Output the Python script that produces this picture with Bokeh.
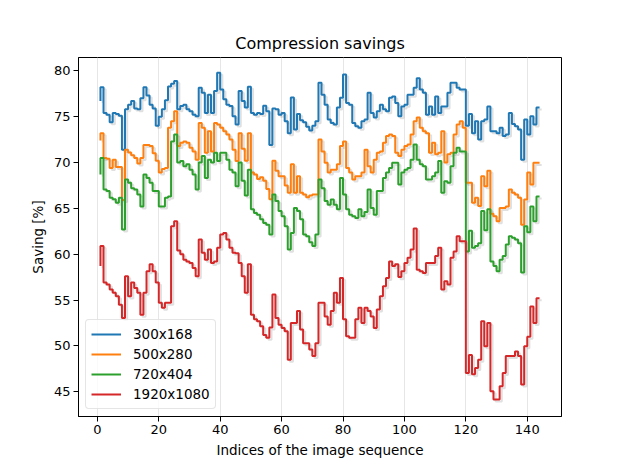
from bokeh.plotting import figure
from bokeh.models import Range1d, FixedTicker, Legend, LegendItem, ColumnDataSource
from bokeh.embed import file_html
from bokeh.resources import INLINE

# ---------------- data ----------------
indices = list(range(1, 145))

s300x168 = [76.7,
    78.2, 75.4, 75.2, 74.4, 75.4, 75.3, 75.1, 71.4, 75.8, 76.3,
    76.7, 75.9, 75.8, 77.0, 78.2, 77.3, 76.3, 75.9, 74.0, 75.0,
    75.8, 76.8, 78.3, 78.6, 78.9, 75.8, 76.15, 76.3, 75.8, 75.6,
    75.2, 75.05, 78.15, 77.6, 75.4, 77.4, 75.4, 77.8, 79.8, 77.96,
    76.9, 76.3, 76.15, 75.05, 74.15, 77.8, 76.7, 76.0, 78.25, 75.4,
    75.2, 75.4, 75.3, 76.2, 75.6, 71.9, 75.9, 75.8, 75.2, 75.4,
    74.5, 73.2, 77.1, 73.6, 75.3, 74.6, 74.4, 73.9, 73.5, 74.0,
    74.5, 78.7, 77.4, 76.3, 74.7, 74.3, 74.15, 76.0, 77.05, 79.6,
    76.5, 76.3, 74.3, 73.96, 73.8, 74.5, 74.7, 77.6, 75.4, 74.9,
    75.6, 76.3, 75.8, 75.6, 77.05, 77.2, 76.5, 75.05, 76.1, 76.3,
    77.4, 77.4, 78.15, 79.2, 77.96, 77.6, 75.2, 76.1, 75.2, 77.2,
    75.4, 76.1, 76.1, 77.6, 78.7, 78.7, 78.15, 77.96, 77.96, 74.0,
    75.3, 73.2, 74.5, 72.5, 74.5, 74.7, 76.1, 73.4, 73.4, 73.2,
    73.8, 72.9, 73.05, 75.4, 74.2, 73.96, 73.6, 70.3, 74.7, 73.05,
    75.05, 74.15, 76.0]

s500x280 = [72.4,
    73.2, 70.5, 70.4, 69.4, 70.3, 69.5, 69.5, 65.9, 71.4, 71.1,
    70.8, 70.5, 69.9, 70.5, 71.9, 71.9, 71.8, 71.0, 70.2, 68.9,
    69.3, 69.4, 73.8, 74.5, 75.6, 71.8, 72.15, 72.3, 72.15, 71.6,
    71.2, 70.3, 74.3, 73.8, 71.05, 73.4, 71.2, 74.3, 74.15, 73.8,
    73.4, 73.05, 72.5, 71.4, 70.15, 73.2, 71.5, 70.2, 73.2, 68.9,
    68.7, 68.2, 68.4, 68.0, 67.1, 66.0, 70.2, 69.1, 68.5, 68.5,
    67.5, 66.7, 69.8, 66.7, 68.5, 66.7, 66.5, 66.2, 66.4, 66.5,
    66.5, 72.5, 71.2, 69.96, 68.9, 69.2, 69.2, 69.8, 71.8, 72.3,
    69.4, 68.9, 68.15, 68.5, 68.5, 68.9, 71.4, 69.6, 68.9, 70.3,
    71.05, 71.2, 72.15, 72.9, 73.05, 72.9, 71.05, 70.7, 71.4, 71.8,
    71.96, 73.05, 74.5, 74.9, 73.8, 73.4, 73.2, 71.05, 72.15, 70.9,
    71.05, 73.4, 70.0, 70.9, 71.05, 73.05, 74.15, 74.5, 73.8, 67.8,
    67.8, 65.6, 66.15, 65.25, 68.5, 67.4, 69.1, 64.4, 64.15, 63.6,
    65.05, 65.05, 65.2, 67.05, 66.7, 66.5, 66.15, 63.2, 65.96, 68.9,
    67.6, 69.96, 69.96]

s720x404 = [68.7,
    70.5, 67.05, 66.9, 66.15, 66.0, 65.6, 66.15, 62.7, 68.15, 67.8,
    67.2, 67.05, 66.5, 65.2, 68.7, 68.3, 67.8, 66.9, 66.9, 65.2,
    65.2, 66.15, 66.3, 72.3, 73.05, 70.0, 70.15, 69.6, 69.8, 69.2,
    68.7, 67.05, 70.0, 70.7, 68.3, 70.3, 70.0, 71.05, 70.15, 71.05,
    71.05, 70.3, 69.2, 68.9, 67.4, 70.0, 68.0, 66.4, 69.2, 64.9,
    64.5, 64.3, 63.8, 63.4, 63.2, 62.15, 66.5, 65.8, 64.7, 64.15,
    63.05, 60.5, 62.3, 65.05, 64.7, 63.8, 62.15, 61.96, 61.3, 60.9,
    62.15, 68.15, 67.2, 65.8, 65.4, 65.96, 65.4, 64.9, 68.3, 66.5,
    64.9, 64.3, 64.15, 63.96, 64.9, 64.15, 64.6, 67.05, 65.05, 64.3,
    66.9, 66.9, 68.3, 68.9, 69.4, 69.96, 69.96, 67.6, 68.9, 69.2,
    69.4, 70.3, 71.96, 70.3, 69.8, 69.6, 68.15, 68.15, 68.5, 68.9,
    70.15, 66.7, 67.96, 67.8, 69.6, 71.05, 71.6, 71.2, 71.2, 60.3,
    62.55, 60.7, 60.9, 61.2, 64.7, 62.6, 64.9, 59.2, 58.7, 58.15,
    59.4, 59.8, 61.05, 61.96, 61.8, 61.6, 61.2, 58.0, 63.05, 62.4,
    65.2, 63.6, 66.3]

s1920x1080 = [58.7,
    60.9, 56.9, 56.7, 56.15, 55.8, 55.4, 54.5, 53.05, 57.6, 55.4,
    56.9, 56.3, 55.8, 53.4, 55.8, 58.15, 58.9, 58.15, 56.9, 54.7,
    54.15, 54.7, 54.7, 63.05, 63.6, 60.4, 60.0, 59.4, 59.2, 59.05,
    58.5, 57.6, 61.6, 60.15, 59.4, 60.5, 59.05, 59.2, 60.7, 62.15,
    62.3, 61.6, 60.7, 60.15, 60.1, 59.05, 57.6, 55.8, 58.9, 53.4,
    52.9, 52.7, 52.15, 51.2, 50.9, 52.0, 55.6, 53.05, 52.3, 51.96,
    51.6, 48.5, 52.5, 52.5, 53.8, 51.8, 50.3, 50.3, 49.6, 48.9,
    50.3, 54.7, 54.7, 53.2, 52.3, 53.8, 55.8, 54.7, 57.4, 52.9,
    51.05, 50.9, 50.9, 52.9, 54.15, 52.5, 54.15, 53.8, 53.2, 51.96,
    53.96, 55.4, 56.5, 57.4, 59.2, 58.7, 58.9, 57.5, 58.15, 59.05,
    59.6, 60.5, 62.8, 58.3, 58.15, 57.96, 59.05, 59.05, 59.05, 59.8,
    60.7, 56.15, 57.05, 56.7, 59.6, 60.3, 61.96, 61.4, 61.4, 47.05,
    49.0, 46.9, 47.6, 48.5, 52.7, 49.96, 52.5, 45.05, 44.15, 44.15,
    45.6, 47.05, 48.9, 48.9, 48.9, 49.4, 48.9, 45.8, 49.96, 51.0,
    54.3, 52.5, 55.2]

series_names = ["300x168", "500x280", "720x404", "1920x1080"]
series_values = [s300x168, s500x280, s720x404, s1920x1080]
series_colors = ["#1f77b4", "#ff7f0e", "#2ca02c", "#d62728"]
x_ticks = [0, 20, 40, 60, 80, 100, 120, 140]
y_ticks = [45, 50, 55, 60, 65, 70, 75, 80]

FONT = "DejaVu Sans"

p = figure(width=621, height=465,
           x_range=Range1d(-6.15, 151.15), y_range=Range1d(42.3, 81.45),
           output_backend="svg", toolbar_location=None,
           min_border_left=78, min_border_right=60,
           min_border_top=57, min_border_bottom=49)

p.title.text = "Compression savings"
p.title.align = "center"
p.title.text_font = FONT
p.title.text_font_size = "16px"
p.title.text_font_style = "normal"
p.title.text_color = "black"

p.background_fill_color = "white"
p.border_fill_color = "white"
p.outline_line_color = "black"
p.outline_line_width = 1
p.outline_line_alpha = 1

p.xaxis.ticker = FixedTicker(ticks=x_ticks)
p.yaxis.ticker = FixedTicker(ticks=y_ticks)
for ax in (p.xaxis[0], p.yaxis[0]):
    ax.axis_line_color = "black"
    ax.major_tick_line_color = "black"
    ax.major_tick_out = 5
    ax.major_tick_in = 0
    ax.minor_tick_line_color = None
    ax.major_label_text_font = FONT
    ax.major_label_text_font_size = "13px"
    ax.major_label_text_color = "black"
    ax.major_label_standoff = 3
    ax.axis_label_text_font = FONT
    ax.axis_label_text_font_size = "13.5px"
    ax.axis_label_text_font_style = "normal"
    ax.axis_label_text_color = "black"
    ax.axis_label_standoff = 5
p.xaxis.axis_label = "Indices of the image sequence"
p.yaxis.axis_label = "Saving [%]"

p.ygrid.visible = False
p.xgrid.grid_line_color = "#e6e6e6"
p.xgrid.grid_line_width = 1

# shadows (offset derived from data)
dx, dy = 0.7, 0.22
for vals in series_values:
    src = ColumnDataSource(dict(x=[v + dx for v in indices], y=[v - dy for v in vals]))
    p.step("x", "y", source=src, mode="before", line_color="black",
           line_alpha=0.12, line_width=2)

items = []
for name, vals, col in zip(series_names, series_values, series_colors):
    src = ColumnDataSource(dict(x=indices, y=vals))
    r = p.step("x", "y", source=src, mode="before", line_color=col, line_width=2)
    items.append(LegendItem(label=name, renderers=[r]))

legend = Legend(items=items, location="bottom_left")
legend.label_text_font = FONT
legend.label_text_font_size = "13.5px"
legend.label_text_color = "black"
legend.border_line_color = "#cccccc"
legend.border_line_width = 1
legend.background_fill_alpha = 0.8
legend.margin = 7
legend.padding = 5
legend.spacing = 2
legend.glyph_width = 30
legend.glyph_height = 18
legend.label_height = 18
legend.label_standoff = 12
legend.border_radius = 4
p.add_layout(legend)

open("out.html", "w").write(file_html(p, INLINE))
